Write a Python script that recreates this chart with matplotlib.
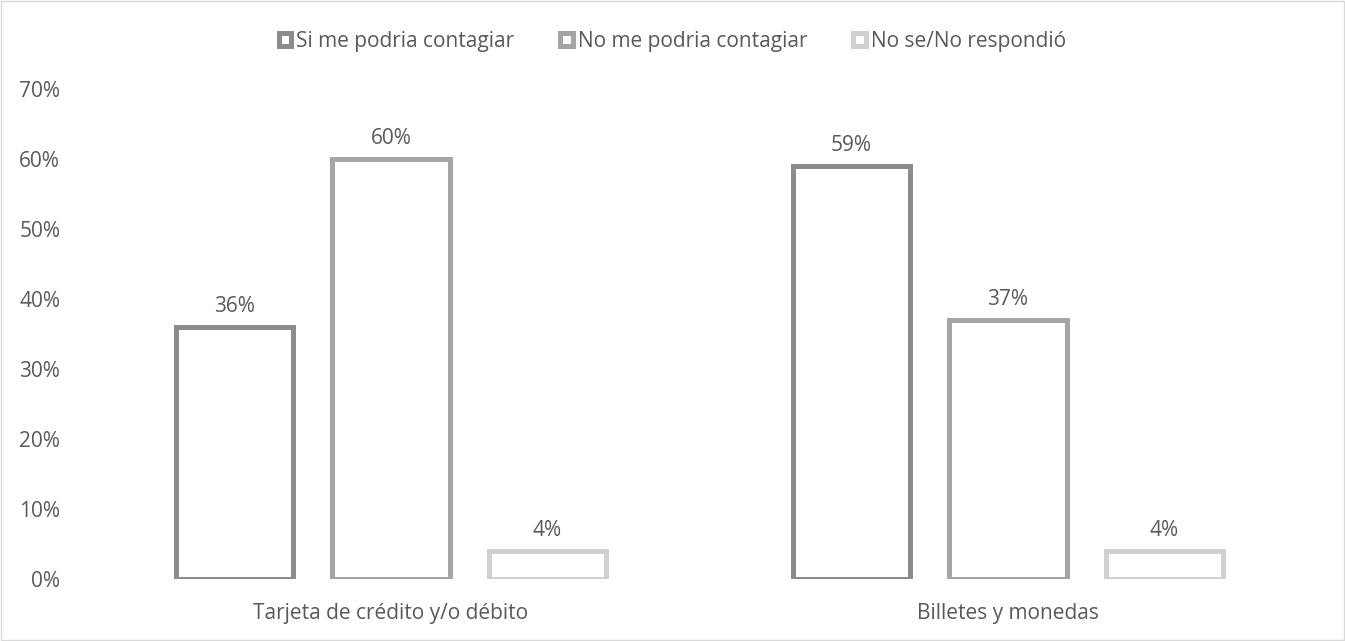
import matplotlib.pyplot as plt
from matplotlib.patches import Rectangle
import numpy as np

plt.rcParams['font.family'] = ['Open Sans', 'DejaVu Sans']

categories = ["Tarjeta de crédito y/o débito", "Billetes y monedas"]
series = ["Si me podria contagiar", "No me podria contagiar", "No se/No respondió"]
values = [
    [36, 59],
    [60, 37],
    [4, 4],
]
colors = ["#8c8c8c", "#a5a5a5", "#d0d0d0"]
text_color = "#595959"
fs = 15

fig = plt.figure(figsize=(13.45, 6.41), dpi=100)
ax = fig.add_axes([0.0613, 0.0967, 0.9175, 0.7645])

x = np.arange(len(categories))
width = 0.19
step = 0.2536
for i, (name, vals, col) in enumerate(zip(series, values, colors)):
    pos = x + (i - 1) * step
    ax.bar(pos, vals, width=width, facecolor="white", edgecolor=col,
           linewidth=3.6, label=name)
    for px, v in zip(pos, vals):
        ax.annotate(f"{v}%", (px, v), xytext=(0, 7), textcoords="offset points",
                    ha="center", va="bottom", fontsize=fs, color=text_color)

ax.set_xlim(-0.5, 1.5)
ax.set_ylim(0, 70)
ax.set_yticks(range(0, 71, 10))
ax.set_yticklabels([f"{t}%" for t in range(0, 71, 10)])
ax.set_xticks(x)
ax.set_xticklabels(categories)
ax.tick_params(axis="both", length=0, labelsize=fs, labelcolor=text_color)
ax.tick_params(axis="x", pad=17)
ax.tick_params(axis="y", pad=16)
for s in ax.spines.values():
    s.set_visible(False)

handles = [Rectangle((0, 0), 1, 1, facecolor="white", edgecolor=c, linewidth=3.6)
           for c in colors]
fig.legend(handles, series, loc="center", bbox_to_anchor=(0.5, 0.936), ncol=3,
           frameon=False, fontsize=fs, labelcolor=text_color, handlelength=0.6,
           handleheight=0.6, handletextpad=0.25, columnspacing=2.2)

# thin frame round the whole figure
fig.patches.append(Rectangle((0.001, 0.001), 0.998, 0.998, transform=fig.transFigure,
                             fill=False, edgecolor="#d9d9d9", linewidth=1))

fig.savefig("out.png", dpi=100)
